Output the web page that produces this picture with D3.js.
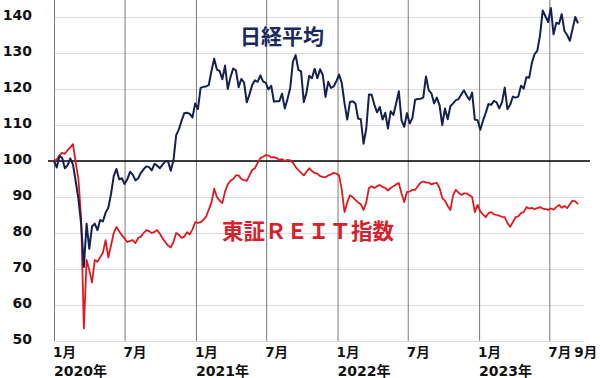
<html lang="ja">
<head>
<meta charset="UTF-8">
<title>日経平均と東証REIT指数</title>
<style>
  body { margin: 0; background: #fff; }
  svg { display: block; }
  .grid line { stroke: #dcdcdc; stroke-width: 1; }
  .vgrid line { stroke: #7a7a7a; stroke-width: 1; }
  .axis text, .lab { font-family: "DejaVu Sans", "Noto Sans CJK JP", sans-serif; font-weight: bold; fill: #111; }
</style>
</head>
<body>
<svg width="600" height="378"></svg>
<script src="https://cdnjs.cloudflare.com/ajax/libs/d3/7.8.5/d3.min.js"></script>
<script>
// weekly points (Wednesdays) starting 2020-01-01, indexed to 100 at start of 2020
var startDate = new Date(2020, 0, 1);

var nikkei = [
  // 2020
  100, 98.2, 101.4, 100.9, 98.0,
  98.8, 100.7, 99.0, 94.3,
  89.5, 82.5, 70.6, 82.6,
  75.6, 81.8, 82.6, 80.8, 83.6,
  83.2, 85.6, 87.0, 90.8,
  95.8, 97.8, 94.9, 95.2,
  93.6, 94.9, 97.0, 96.2, 94.6,
  95.2, 96.7, 97.7, 98.5,
  98.3, 97.4, 99.2, 98.7, 98.0,
  99.0, 99.9, 99.9, 97.3,
  100.2, 107.2, 108.8, 111.2,
  113.3, 113.4, 113.1, 112.1, 116.0,
  // 2021
  114.4, 120.3, 120.6, 120.7,
  121.1, 125.0, 128.4, 125.4,
  125.0, 122.7, 126.5, 120.0, 123.3,
  125.7, 125.2, 120.5, 122.8,
  121.8, 116.3, 118.5, 121.1,
  122.4, 122.0, 123.8, 122.1, 121.7,
  119.9, 120.9, 116.5, 116.6,
  116.6, 118.7, 114.6, 117.2,
  120.3, 127.6, 129.4, 125.3, 124.9,
  116.4, 119.0, 123.7, 123.0,
  125.6, 123.0, 125.5, 123.9,
  117.8, 122.0, 120.3, 120.7, 122.2,
  // 2022
  124.0, 121.6, 116.1, 111.5,
  116.4, 116.6, 116.0, 111.8,
  111.6, 104.8, 108.9, 118.5, 118.4,
  115.6, 113.5, 115.0, 111.5,
  113.4, 109.0, 113.8, 112.8,
  116.0, 119.4, 111.3, 109.5, 113.3,
  110.4, 111.9, 117.0, 117.2,
  117.3, 117.6, 123.5, 119.7, 118.8,
  116.0, 117.6, 115.5, 110.0,
  114.6, 111.6, 115.2, 116.0,
  116.9, 117.2, 118.5, 119.6, 118.2,
  117.0, 119.0, 111.5, 111.3,
  // 2023
  108.7, 111.2, 113.3, 115.8,
  115.6, 116.7, 116.3, 114.6,
  116.3, 120.4, 114.4, 115.6, 117.9,
  117.6, 117.9, 120.9, 120.1,
  123.3, 123.1, 127.2, 129.7, 130.6,
  134.9, 141.8, 140.2, 138.6,
  142.5, 135.2, 138.4, 138.1,
  140.8, 136.1, 135.0, 133.4, 136.7,
  140.0, 138.2
];

var reit = [
  // 2020
  100, 100.5, 101.5, 102.3, 102.0,
  103.0, 103.8, 104.7, 99.5,
  95.0, 84.0, 53.5, 72.5,
  69.7, 66.2, 72.5, 72.0, 73.3,
  74.5, 78.0, 73.2, 76.5,
  80.0, 81.7, 80.5, 79.4,
  78.5, 77.5, 77.8, 78.0, 77.2,
  78.6, 79.0, 80.0, 80.8,
  80.5, 80.0, 80.3, 80.8, 79.8,
  78.5, 77.5, 76.5, 76.0,
  77.5, 80.0, 79.5, 78.6,
  79.0, 80.2, 79.6, 81.0, 83.0,
  // 2021
  82.8, 83.0, 83.6, 84.5,
  86.5, 88.5, 92.3, 90.0,
  89.0, 88.3, 91.5, 93.5, 94.5,
  95.0, 96.0, 96.0, 95.0,
  94.7, 94.5, 96.0, 97.5,
  98.0, 99.5, 100.8, 101.2, 101.7,
  101.5, 101.0, 101.1, 100.8,
  100.3, 100.5, 100.0, 100.3,
  100.2, 99.5, 98.3, 97.5, 96.7,
  96.0, 97.0, 98.0, 97.2,
  96.7, 96.5, 95.8, 95.6,
  95.5, 96.0, 96.3, 96.7, 96.5,
  // 2022
  96.0, 92.0, 85.8, 88.5,
  90.5, 90.0, 89.2, 88.5,
  88.0, 86.4, 88.5, 92.5, 93.0,
  92.5, 93.0, 93.3, 92.8,
  92.5, 91.8, 92.5, 93.0,
  93.5, 93.9, 91.0, 88.6, 91.4,
  91.5, 92.0, 92.0, 93.0,
  94.0, 94.3, 94.0, 94.0, 93.5,
  93.8, 93.9, 92.5, 89.7,
  89.0, 87.5, 86.4, 90.5,
  92.0, 91.2, 90.6, 91.0, 91.0,
  90.5, 90.0, 85.8, 87.8,
  // 2023
  86.0, 85.2, 84.4, 85.5,
  85.8, 85.2, 85.0, 84.8,
  84.5, 84.4, 82.8, 81.7, 83.0,
  84.4, 84.6, 85.5, 85.8,
  87.2, 86.8, 87.0, 86.6, 86.9,
  87.2, 86.8, 86.6, 86.4,
  86.8, 86.5, 87.2, 87.8,
  87.0, 87.5, 86.9, 88.0, 89.0,
  88.8, 88.0
];

var yTicks = [50, 60, 70, 80, 90, 100, 110, 120, 130, 140];
var gridDates = ["2020-01-01", "2020-07-01", "2021-01-01", "2021-07-01", "2022-01-01", "2022-07-01", "2023-01-01", "2023-07-01"];
var monthLabels = ["1月", "7月", "1月", "7月", "1月", "7月", "1月", "7月", "9月"];
var monthDates = ["2020-01-01", "2020-07-01", "2021-01-01", "2021-07-01", "2022-01-01", "2022-07-01", "2023-01-01", "2023-07-01", "2023-09-06"];
var yearLabels = ["2020年", "2021年", "2022年", "2023年"];
var yearDates = ["2020-01-01", "2021-01-01", "2022-01-01", "2023-01-01"];

var parse = d3.timeParse("%Y-%m-%d");
var svg = d3.select("svg");

var x = d3.scaleTime()
  .domain([new Date(2020, 0, 1), new Date(2023, 9, 1)])
  .range([54, 585]);
var y = d3.scaleLinear().domain([50, 140]).range([341, 17]);

function toPoints(vals) {
  return vals.map(function (v, i) {
    return { date: d3.timeDay.offset(startDate, i * 7), value: v };
  });
}

// horizontal grid + y labels
svg.append("g")
  .attr("class", "axis grid")
  .attr("transform", "translate(54,0)")
  .call(d3.axisLeft(y).tickValues(yTicks).tickSize(-530).tickPadding(22).tickFormat(d3.format("d")))
  .call(function (g) { g.select(".domain").remove(); })
  .selectAll("text")
  .attr("font-size", 14)
  .attr("dy", "0.2em");

// vertical grid lines
svg.append("g")
  .attr("class", "vgrid")
  .attr("transform", "translate(0,341)")
  .call(d3.axisBottom(x).tickValues(gridDates.map(parse)).tickSize(-341).tickFormat(""))
  .call(function (g) { g.select(".domain").remove(); });

// 100 line
svg.append("line")
  .attr("x1", 48).attr("x2", 590)
  .attr("y1", y(100)).attr("y2", y(100))
  .attr("stroke", "#000").attr("stroke-width", 1.5);

var line = d3.line()
  .x(function (d) { return x(d.date); })
  .y(function (d) { return y(d.value); });

svg.append("path")
  .datum(toPoints(reit))
  .attr("fill", "none")
  .attr("stroke", "#e1191e")
  .attr("stroke-width", 1.8)
  .attr("stroke-linejoin", "round")
  .attr("d", line);

svg.append("path")
  .datum(toPoints(nikkei))
  .attr("fill", "none")
  .attr("stroke", "#14204f")
  .attr("stroke-width", 2)
  .attr("stroke-linejoin", "round")
  .attr("d", line);

// x labels
svg.selectAll(".mlab")
  .data(monthLabels)
  .enter().append("text")
  .attr("class", "lab")
  .attr("x", function (d, i) { return x(parse(monthDates[i])) - 1; })
  .attr("y", 357)
  .attr("font-size", 13.5)
  .text(function (d) { return d; });

svg.selectAll(".ylab")
  .data(yearLabels)
  .enter().append("text")
  .attr("class", "lab")
  .attr("x", function (d, i) { return x(parse(yearDates[i])); })
  .attr("y", 375.5)
  .attr("font-size", 14)
  .text(function (d) { return d; });

// series names
svg.append("text")
  .attr("x", 240).attr("y", 44)
  .attr("font-family", "'Noto Sans CJK JP', sans-serif")
  .attr("font-weight", "bold")
  .attr("font-size", 21)
  .attr("fill", "#1b2a5e")
  .text("日経平均");

svg.append("text")
  .attr("x", 222).attr("y", 239)
  .attr("font-family", "'Noto Sans CJK JP', sans-serif")
  .attr("font-weight", "bold")
  .attr("font-size", 21.5)
  .attr("fill", "#d8202a")
  .text("東証ＲＥＩＴ指数");
</script>
</body>
</html>
